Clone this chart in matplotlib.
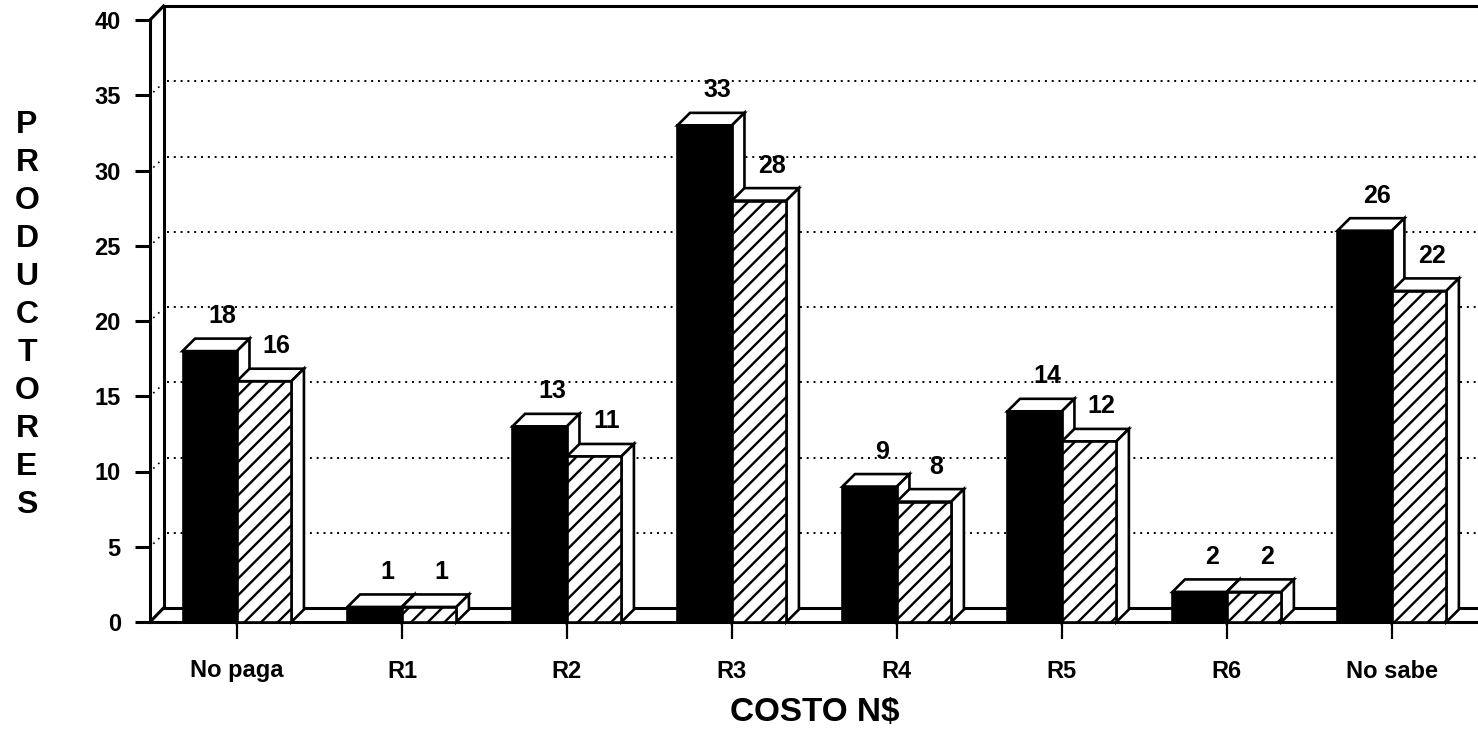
import matplotlib.pyplot as plt
from matplotlib.patches import Polygon, Rectangle

plt.rcParams['font.family'] = ['Liberation Sans', 'DejaVu Sans']
plt.rcParams['font.weight'] = 'bold'
plt.rcParams['hatch.linewidth'] = 1.7

categorias = ['No paga', 'R1', 'R2', 'R3', 'R4', 'R5', 'R6', 'No sabe']
serie_negra = [18, 1, 13, 33, 9, 14, 2, 26]
serie_rayada = [16, 1, 11, 28, 8, 12, 2, 22]
yticks = [0, 5, 10, 15, 20, 25, 30, 35, 40]

# geometry of the fake 3D (data units)
x_left, x_right = -0.527, 7.522
ancho = 0.33          # bar width
bdx, bdy = 0.076, 0.83   # bar depth offset
wdx, wdy = 0.082, 0.93   # wall depth offset
lw = 2.2

fig = plt.figure(figsize=(14.78, 7.34), dpi=100)
W, H = 1478, 734
ax = fig.add_axes([150 / W, (H - 622) / H, (W - 150) / W, (622 - 20) / H])
ax.set_xlim(x_left, x_right)
ax.set_ylim(0, 40)

for s in ['top', 'right']:
    ax.spines[s].set_visible(False)
for s in ['left', 'bottom']:
    ax.spines[s].set_linewidth(lw)

ax.set_yticks(yticks)
ax.tick_params(axis='y', length=11, width=lw, pad=10, labelsize=17)
ax.set_xticks(range(len(categorias)))
ax.set_xticklabels(categorias)
ax.tick_params(axis='x', length=12, width=1.6, pad=15, labelsize=17)

# back wall, floor and side strip
bx = x_left + wdx
ax.plot([bx, bx], [wdy, 40 + wdy], color='k', lw=lw, clip_on=False, zorder=2)
ax.plot([x_left, bx], [40, 40 + wdy], color='k', lw=lw, clip_on=False, zorder=2)
ax.plot([bx, 8.0], [40 + wdy, 40 + wdy], color='k', lw=lw, clip_on=False, zorder=2)
ax.plot([x_left, bx], [0, wdy], color='k', lw=lw, clip_on=False, zorder=2)
ax.plot([bx, 8.0], [wdy, wdy], color='k', lw=lw, clip_on=False, zorder=2)
for v in yticks[1:-1]:
    ax.plot([bx + 0.02, 8.0], [v + wdy, v + wdy], color='k', lw=1.4,
            ls=(0, (1, 2.5)), clip_on=False, zorder=1)
    ax.plot([x_left + 0.02, bx - 0.01], [v + 0.2, v + wdy - 0.2], color='k',
            lw=1.2, ls=(0, (1, 3)), clip_on=False, zorder=1)


def barra3d(x0, h, color, hatch, z):
    top = [(x0, h), (x0 + ancho, h), (x0 + ancho + bdx, h + bdy), (x0 + bdx, h + bdy)]
    side = [(x0 + ancho, 0), (x0 + ancho + bdx, bdy), (x0 + ancho + bdx, h + bdy), (x0 + ancho, h)]
    for pts in (top, side):
        ax.add_patch(Polygon(pts, closed=True, facecolor='white', edgecolor='k',
                             lw=1.9, joinstyle='miter', zorder=z, clip_on=False))
    ax.add_patch(Rectangle((x0, 0), ancho, h, facecolor=color, edgecolor='k',
                           hatch=hatch, lw=1.9, zorder=z + 0.5, clip_on=False))


for i, (a, b) in enumerate(zip(serie_negra, serie_rayada)):
    barra3d(i - ancho, a, 'black', None, 3 + 2 * i)
    barra3d(i, b, 'white', '//', 4 + 2 * i)
    ax.text(i - ancho / 2 + bdx, a + bdy + 0.7, str(a), ha='center', va='bottom',
            fontsize=18, fontweight='bold')
    ax.text(i + ancho / 2 + bdx, b + bdy + 0.7, str(b), ha='center', va='bottom',
            fontsize=18, fontweight='bold')

# axis titles
for k, letra in enumerate('PRODUCTORES'):
    fig.text(27 / W, 1 - (125 + 38 * k) / H, letra, ha='center', va='center',
             fontsize=23, fontweight='bold')
ax.text(3.5, -6.0, 'COSTO N$', ha='center', va='center', fontsize=24,
        fontweight='bold', family=['Liberation Sans Narrow', 'Liberation Sans'])

fig.savefig('out.png', dpi=100, facecolor='white')
